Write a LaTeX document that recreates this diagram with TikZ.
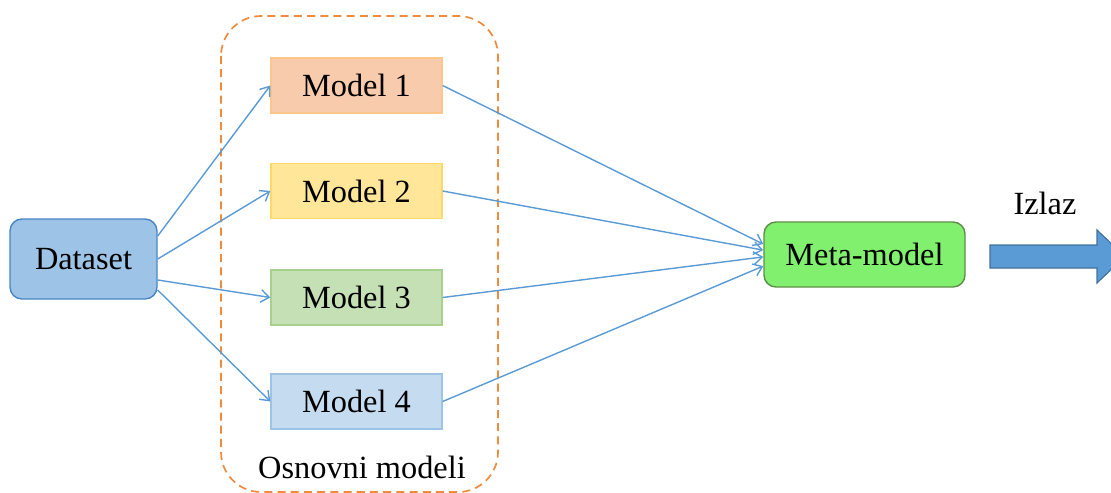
\documentclass[tikz,border=0pt]{standalone}
\usepackage{fontspec}
\setmainfont{Liberation Serif}
\usetikzlibrary{arrows.meta}

\definecolor{lineblue}{HTML}{5B9BD5}
\definecolor{dashorange}{HTML}{F08A3C}
\definecolor{dsfill}{HTML}{9DC3E6}
\definecolor{dsline}{HTML}{4A86C5}
\definecolor{metafill}{HTML}{80F06E}
\definecolor{metaline}{HTML}{5E8F4A}
\definecolor{bigline}{HTML}{41719C}

\begin{document}
\begin{tikzpicture}[x=0.025cm, y=-0.025cm,
    font=\fontsize{23}{27}\selectfont,
    modelbox/.style={draw, line width=0.9pt, minimum width=4.275cm, minimum height=1.375cm, inner sep=0pt},
    link/.style={draw=lineblue, line width=1pt, -{Straight Barb[length=6pt,width=9pt]}}]
    \useasboundingbox (0,0) rectangle (1111,493);
    \clip (0,0) rectangle (1111,493);
    % grupa osnovnih modela
    \draw[dashorange, line width=1.2pt, dash pattern=on 0.2cm off 0.13cm, rounded corners=1cm] (221,16) rectangle (498,492);
    \node (osnovni) at (362,467) {Osnovni modeli};
    % ulaz
    \node[draw=dsline, fill=dsfill, line width=1pt, rounded corners=0.3cm, minimum width=3.675cm, minimum height=2cm, inner sep=0pt] (dataset) at (83.5,259) {Dataset};
    % modeli
    \node[modelbox, draw=orange!45!white, fill={rgb,255:red,248;green,203;blue,173}] (m1) at (356.5,85.5) {Model 1};
    \node[modelbox, draw={rgb,255:red,255;green,217;blue,102}, fill={rgb,255:red,255;green,230;blue,153}] (m2) at (356.5,191) {Model 2};
    \node[modelbox, draw={rgb,255:red,169;green,209;blue,142}, fill={rgb,255:red,197;green,224;blue,180}] (m3) at (356.5,297.5) {Model 3};
    \node[modelbox, draw={rgb,255:red,157;green,195;blue,230}, fill={rgb,255:red,197;green,220;blue,240}] (m4) at (356.5,401.5) {Model 4};
    % meta-model
    \node[draw=metaline, fill=metafill, line width=1pt, rounded corners=0.3cm, minimum width=5.025cm, minimum height=1.625cm, inner sep=0pt] (meta) at (864.5,254.5) {Meta-model};
    \draw[link] ([yshift=0.575cm]dataset.east) -- (m1.west);
    \draw[link] ([yshift=0cm]dataset.east) -- (m2.west);
    \draw[link] ([yshift=-0.525cm]dataset.east) -- (m3.west);
    \draw[link] ([yshift=-0.775cm]dataset.east) -- (m4.west);
    \draw[link] (m1.east) -- ([yshift=0.26cm]meta.west);
    \draw[link] (m2.east) -- ([yshift=0.11cm]meta.west);
    \draw[link] (m3.east) -- ([yshift=-0.06cm]meta.west);
    \draw[link] (m4.east) -- ([yshift=-0.29cm]meta.west);
    % izlaz
    \node (izlaz) at (1045,203) {Izlaz};
    \draw[bigline, fill=lineblue, line width=0.8pt] (990,245) -- (1097,245) -- (1097,230) -- (1125,256.5) -- (1097,283) -- (1097,268) -- (990,268) -- cycle;
\end{tikzpicture}
\end{document}
